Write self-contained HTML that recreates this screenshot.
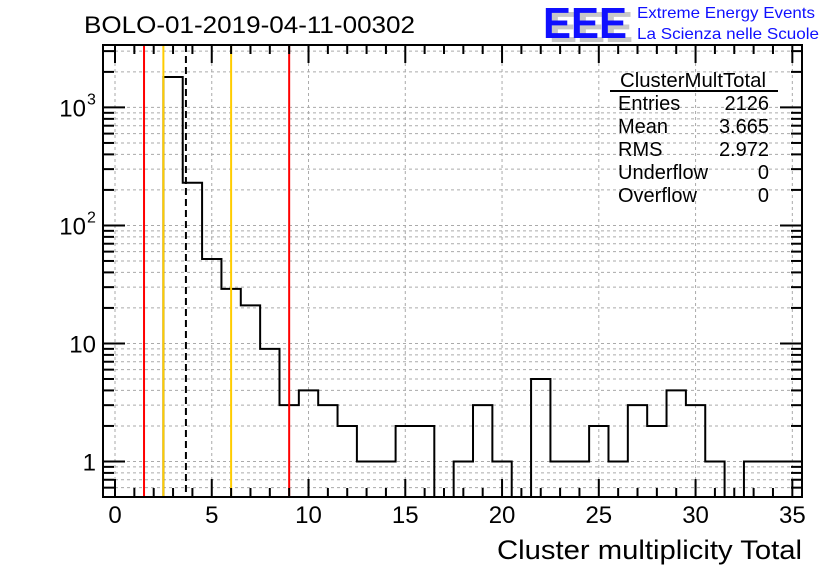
<!DOCTYPE html>
<html><head><meta charset="utf-8"><style>
body{margin:0;background:#fff;}
svg text{font-family:"Liberation Sans",Arial,sans-serif;}
</style></head><body>
<svg id="c" width="836" height="572" xmlns="http://www.w3.org/2000/svg">
<text x="84" y="33" font-size="24" textLength="331" lengthAdjust="spacingAndGlyphs">BOLO-01-2019-04-11-00302</text>
<g>
<text x="549" y="42" font-size="44" font-weight="bold" fill="#c8c8c8" textLength="84" lengthAdjust="spacingAndGlyphs">EEE</text>
<text x="543" y="38" font-size="44" font-weight="bold" fill="#1010ff" textLength="84" lengthAdjust="spacingAndGlyphs">EEE</text>
<text x="637" y="18" font-size="16" fill="#1010ff" textLength="178" lengthAdjust="spacingAndGlyphs">Extreme Energy Events</text>
<text x="637" y="39" font-size="16" fill="#1010ff" textLength="182" lengthAdjust="spacingAndGlyphs">La Scienza nelle Scuole</text>
</g>
<g id="grid"></g>
<g id="marks"></g>
<g id="axes"></g>
<g font-size="20">
<text x="620" y="87" textLength="146" lengthAdjust="spacingAndGlyphs">ClusterMultTotal</text>
<line x1="610" y1="91" x2="778" y2="91" stroke="#000" stroke-width="2"/>
<text x="618" y="110">Entries</text><text x="769" y="110" text-anchor="end">2126</text>
<text x="618" y="133">Mean</text><text x="769" y="133" text-anchor="end">3.665</text>
<text x="618" y="156">RMS</text><text x="769" y="156" text-anchor="end">2.972</text>
<text x="618" y="179">Underflow</text><text x="769" y="179" text-anchor="end">0</text>
<text x="618" y="202">Overflow</text><text x="769" y="202" text-anchor="end">0</text>
</g>
<text x="802" y="559" font-size="27" text-anchor="end" textLength="305" lengthAdjust="spacingAndGlyphs">Cluster multiplicity Total</text>
</svg>
<script>
const binCenters=[1,2,3,4,5,6,7,8,9,10,11,12,13,14,15,16,17,18,19,20,21,22,23,24,25,26,27,28,29,30,31,32,33,34,35];
const binCounts=[0,0,1810,230,52,29,21,9,3,4,3,2,1,1,2,2,0,1,3,1,0,5,1,1,2,1,3,2,4,3,1,0,1,1,1];
const xTicks=[0,5,10,15,20,25,30,35];
const yTickLabels=[{v:1,t:"1"},{v:10,t:"10"},{v:100,t:"10",e:"2"},{v:1000,t:"10",e:"3"}];
const vLines=[{v:1.5,c:"#ff0000"},{v:2.5,c:"#ffcc00"},{v:3.665,c:"#000",d:true},{v:6,c:"#ffcc00"},{v:9,c:"#ff0000"}];
const L=103,R=802,T=45,B=497;
const xmin=-0.62,xmax=35.5,ymin=Math.log10(0.5),ymax=Math.log10(3380);
const X=v=>L+(v-xmin)/(xmax-xmin)*(R-L);
const Y=v=>B-(Math.log10(v)-ymin)/(ymax-ymin)*(B-T);
const NS="http://www.w3.org/2000/svg";
function mk(p,tag,a){const e=document.createElementNS(NS,tag);for(const k in a)e.setAttribute(k,a[k]);p.appendChild(e);return e;}
const grid=document.getElementById('grid'),marks=document.getElementById('marks'),axes=document.getElementById('axes');
for(const t of xTicks){const g=mk(grid,'line',{x1:X(t),x2:X(t),y1:T,y2:B,stroke:'#aaa','stroke-dasharray':'3,3'});

}
for(let d=0.5;d<=3000;){const dec=Math.pow(10,Math.floor(Math.log10(d)+1e-9));
const y=Y(d);if(y>=T&&y<B){const g=mk(grid,'line',{x1:L,x2:R,y1:y,y2:y,stroke:'#aaa','stroke-dasharray':'3,3'});

}
d=Math.round((d+dec)*1000)/1000;}
const segs=[];let cur=null;
for(let i=0;i<binCenters.length;i++){const c=binCounts[i];
if(c>0){const x0=X(binCenters[i]-0.5),x1=X(binCenters[i]+0.5),y=Y(c);
if(!cur){cur=`M${x0},${B} L${x0},${y} L${x1},${y}`;}else{cur+=` L${x0},${y} L${x1},${y}`;}
if(i==binCenters.length-1||binCounts[i+1]==0){cur+=(i==binCenters.length-1)?'':` L${x1},${B}`;segs.push(cur);cur=null;}}}
for(const s of segs){const h=mk(marks,'path',{d:s,fill:'none',stroke:'#000','stroke-width':2});

}
for(const l of vLines){const e=mk(marks,'line',{x1:X(l.v),x2:X(l.v),y1:T,y2:B,stroke:l.c,'stroke-width':2});
if(l.d)e.setAttribute('stroke-dasharray','7,4');

}
const f=mk(axes,'rect',{x:L,y:T,width:R-L,height:B-T,fill:'none',stroke:'#000','stroke-width':2});


for(let v=0;v<=35.5;v+=1){const big=v%5==0;const len=big?18:9;
mk(axes,'line',{x1:X(v),x2:X(v),y1:B,y2:B-len,stroke:'#000','stroke-width':2});
mk(axes,'line',{x1:X(v),x2:X(v),y1:T,y2:T+len,stroke:'#000','stroke-width':2});}
for(const t of xTicks){const e=mk(axes,'text',{x:X(t),y:B+26,'font-size':24,'text-anchor':'middle'});e.textContent=t;

}
for(let d=0.5;d<=3000;){const dec=Math.pow(10,Math.floor(Math.log10(d)+1e-9));const y=Y(d);
if(y>=T&&y<=B){const big=Math.abs(d/dec-1)<1e-6;const len=big?22:11;
mk(axes,'line',{x1:L,x2:L+len,y1:y,y2:y,stroke:'#000','stroke-width':2});
mk(axes,'line',{x1:R,x2:R-len,y1:y,y2:y,stroke:'#000','stroke-width':2});}
d=Math.round((d+dec)*1000)/1000;}
for(const t of yTickLabels){const y=Y(t.v);const e=mk(axes,'text',{x:t.e?86:96,y:y+9,'font-size':24,'text-anchor':'end'});e.textContent=t.t;


if(t.e){const s=mk(axes,'text',{x:87,y:y-3,'font-size':16});s.textContent=t.e;

}}
</script>
</body></html>
